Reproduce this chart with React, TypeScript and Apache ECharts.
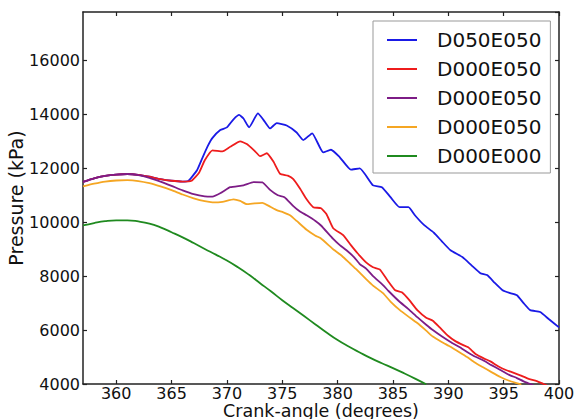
import React, { useEffect, useRef } from "react";
import * as echarts from "echarts";

const seriesNames = ["D050E050", "D000E050", "D000E050", "D000E050", "D000E000"];
const seriesColors = ["#1a1ae6", "#ee1c1c", "#7d1c86", "#f5a623", "#1f8a1f"];

const xTicks = [360, 365, 370, 375, 380, 385, 390, 395, 400];
const xTitle = "Crank-angle (degrees)";
const yTitle = "Pressure (kPa)";

const blueData = [
  [357, 11500], [358, 11630], [359, 11720], [360, 11770], [361, 11790], [362, 11760], [363, 11690],
  [364, 11600], [365, 11540], [366, 11510], [366.5, 11530], [367.3, 11930], [367.8, 12400],
  [368.3, 12850], [368.7, 13130], [369.4, 13420], [370, 13520], [370.6, 13820], [371.1, 13980],
  [371.5, 13850], [372, 13520], [372.8, 14040], [373.3, 13800], [373.9, 13480], [374.5, 13680],
  [375.4, 13590], [376.3, 13330], [376.9, 13050], [377.7, 13300], [378.7, 12590], [379.4, 12690],
  [380.2, 12410], [381.2, 11950], [382, 12000], [383.2, 11370], [384, 11300], [384.8, 10920],
  [385.6, 10560], [386.4, 10560], [387, 10250], [387.8, 9900], [388.7, 9610], [389.4, 9300],
  [390.2, 8960], [391.3, 8700], [392.1, 8400], [392.9, 8110], [393.5, 8040], [394.2, 7750],
  [394.9, 7480], [395.6, 7370], [396.2, 7290], [396.8, 7000], [397.4, 6740], [398.3, 6670],
  [399.1, 6400], [400, 6100],
];

const redData = [
  [357, 11500], [358, 11630], [359, 11720], [360, 11770], [361, 11790], [362, 11760], [363, 11690],
  [364, 11600], [365, 11540], [366, 11510], [366.8, 11540], [367.5, 11850], [368, 12300],
  [368.7, 12670], [369.6, 12630], [370.3, 12800], [371.2, 13000], [371.8, 12900], [372.5, 12650],
  [373, 12450], [373.6, 12560], [374.2, 12250], [374.8, 11800], [375.5, 11730], [376, 11600],
  [376.6, 11250], [377.2, 10850], [377.8, 10560], [378.5, 10520], [379, 10300], [379.6, 9780],
  [380.5, 9520], [381.2, 9150], [381.8, 8850], [382.6, 8500], [383.2, 8330], [383.8, 8250],
  [384.5, 7850], [385.2, 7480], [385.8, 7400], [386.5, 7100], [387.2, 6740], [388, 6460],
  [388.6, 6350], [389.2, 6110], [390, 5780], [390.6, 5600], [391.3, 5450], [391.8, 5360],
  [392.5, 5100], [393.2, 4950], [393.8, 4840], [394.5, 4660], [395.2, 4520], [395.8, 4430],
  [396.5, 4320], [397.2, 4200], [398, 4110], [398.6, 4000], [398.9, 3950],
];

const purpleData = [
  [357, 11500], [358, 11630], [359, 11720], [360, 11770], [361, 11790], [362, 11750], [363, 11650],
  [364, 11510], [365, 11350], [366, 11180], [367, 11040], [368, 10960], [368.7, 10950],
  [369.5, 11100], [370.3, 11300], [371.5, 11370], [372.4, 11490], [373.2, 11480], [373.9, 11200],
  [374.6, 11000], [375.2, 10930], [376, 10600], [376.6, 10400], [377.2, 10260], [378, 10050],
  [378.5, 9880], [379.6, 9380], [380.2, 9150], [380.8, 8960], [381.5, 8700], [382, 8450],
  [382.6, 8270], [383.2, 8000], [384.1, 7670], [384.6, 7450], [385.6, 7050], [386.4, 6780],
  [387.2, 6480], [388, 6200], [388.6, 6000], [389.4, 5770], [390.2, 5560], [391, 5370],
  [391.7, 5190], [392.4, 5020], [393.1, 4890], [393.9, 4700], [394.7, 4520], [395.5, 4340],
  [396.2, 4220], [396.8, 4100], [397.4, 4000], [397.7, 3950],
];

const orangeData = [
  [357, 11330], [358, 11430], [359, 11510], [360, 11550], [361, 11560], [362, 11530], [363, 11450],
  [364, 11330], [365, 11190], [366, 11030], [367, 10890], [368, 10780], [368.7, 10740],
  [369.6, 10760], [370.6, 10850], [371.2, 10790], [371.8, 10670], [372.5, 10700], [373.2, 10720],
  [373.9, 10580], [374.5, 10450], [375.1, 10370], [375.7, 10260], [376.3, 10050], [377.2, 9720],
  [378, 9500], [378.5, 9400], [379.6, 9000], [380.4, 8750], [381.1, 8480], [381.7, 8250],
  [382.6, 7880], [383.2, 7650], [384.1, 7370], [384.8, 7050], [385.6, 6750], [386.4, 6500],
  [387.2, 6260], [388, 5980], [388.6, 5760], [389.4, 5560], [390.2, 5380], [391, 5180],
  [391.7, 5000], [392.4, 4800], [393.1, 4630], [393.9, 4440], [394.7, 4260], [395.5, 4120],
  [396.2, 4030], [396.6, 3980],
];

const greenData = [
  [357, 9880], [358, 9970], [359, 10040], [360, 10070], [361, 10070], [362, 10030], [363, 9950],
  [364, 9810], [365, 9630], [366, 9440], [367, 9230], [368, 9010], [369, 8800], [370, 8580],
  [371, 8330], [372, 8050], [373, 7740], [374, 7430], [375, 7110], [376, 6810], [377, 6510],
  [378, 6210], [379, 5910], [380, 5630], [381, 5390], [382, 5170], [383, 4960], [384, 4770],
  [385, 4590], [386, 4400], [387, 4200], [388, 3990],
];

const allData = [blueData, redData, purpleData, orangeData, greenData];

const FONT = "DejaVu Sans";
const AXIS_COLOR = "#222";

export default function App() {
  const ref = useRef<HTMLDivElement>(null);
  useEffect(() => {
    if (!ref.current) return;
    const chart = echarts.init(ref.current, null, { renderer: "svg" });
    const axisLine = { show: true, lineStyle: { color: AXIS_COLOR, width: 1.5 } };
    const tick = { show: true, inside: true, length: 4, lineStyle: { color: AXIS_COLOR, width: 1.2 } };
    chart.setOption({
      animation: false,
      backgroundColor: "#fff",
      grid: { left: 83, right: 16, top: 12, bottom: 35, containLabel: false, outerBoundsMode: "none" },
      graphic: [
        {
          type: "text",
          x: 321,
          y: 410.5,
          style: {
            text: xTitle,
            fontFamily: FONT,
            fontSize: 17.5,
            fill: "#111",
            align: "center",
            verticalAlign: "middle",
          },
        },
        {
          type: "text",
          x: 16,
          y: 198,
          rotation: Math.PI / 2,
          style: {
            text: yTitle,
            fontFamily: FONT,
            fontSize: 19,
            fill: "#111",
            align: "center",
            verticalAlign: "middle",
          },
        },
      ],
      legend: {
        orient: "vertical",
        left: 373,
        top: 21,
        padding: [9, 9, 7, 14],
        backgroundColor: "#fff",
        borderColor: "#999",
        borderWidth: 1,
        borderRadius: 0,
        icon: "rect",
        itemWidth: 30,
        itemHeight: 2,
        itemGap: 9,
        textStyle: { fontFamily: FONT, fontSize: 20, color: "#111", padding: [0, 0, 0, 15], lineHeight: 20 },
        data: seriesNames.map((n, i) => ({ name: n + "\u200b".repeat(i) })),
      },
      xAxis: [
        {
          type: "value",
          min: 357,
          max: 400,
          position: "bottom",
          axisLine,
          axisTick: { ...tick, customValues: xTicks },
          axisLabel: {
            customValues: xTicks,
            fontFamily: FONT,
            fontSize: 16,
            color: "#111",
            margin: 1,
          },
          splitLine: { show: false },
        },
        {
          type: "value",
          min: 357,
          max: 400,
          position: "top",
          axisLine,
          axisTick: { ...tick, customValues: xTicks },
          axisLabel: { show: false, customValues: xTicks },
          splitLine: { show: false },
        },
      ],
      yAxis: [
        {
          type: "value",
          min: 4000,
          max: 17800,
          interval: 2000,
          position: "left",
          axisLine,
          axisTick: tick,
          axisLabel: {
            fontFamily: FONT,
            fontSize: 16,
            color: "#111",
            margin: 3,
            showMaxLabel: false,
            formatter: (v: number) => String(v),
          },
          splitLine: { show: false },
        },
        {
          type: "value",
          min: 4000,
          max: 17800,
          interval: 2000,
          position: "right",
          axisLine,
          axisTick: tick,
          axisLabel: { show: false },
          splitLine: { show: false },
        },
      ],
      series: allData.map((d, i) => ({
        type: "line",
        name: seriesNames[i] + "\u200b".repeat(i),
        data: d,
        xAxisIndex: 0,
        yAxisIndex: 0,
        showSymbol: false,
        symbol: "none",
        smooth: i === 4 ? true : 0.15,
        clip: true,
        lineStyle: { color: seriesColors[i], width: 1.8 },
        itemStyle: { color: seriesColors[i] },
      })),
    });
    return () => chart.dispose();
  }, []);
  return (
    <div
      ref={ref}
      style={{ position: "fixed", left: 0, top: 0, width: 575, height: 419, background: "#fff" }}
    />
  );
}
